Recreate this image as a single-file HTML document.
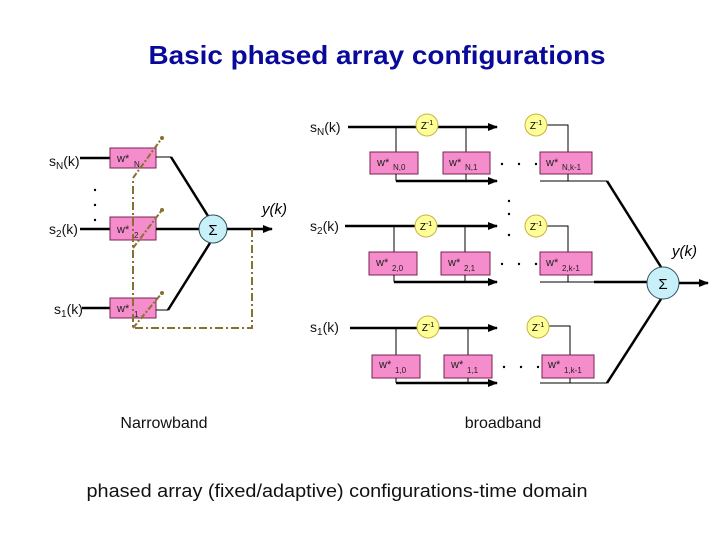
<!DOCTYPE html>
<html><head><meta charset="utf-8"><style>
html,body{margin:0;padding:0;background:#fff;}
svg{display:block;font-family:"Liberation Sans",sans-serif;}
.b{fill:#f58ccc;stroke:#7a2050;stroke-width:1;}
.z{fill:#ffff99;stroke:#c8b440;stroke-width:1;}
.s{fill:#c8f0f8;stroke:#305060;stroke-width:1;}
.t{stroke:#000;stroke-width:2.5;fill:none;}
.n{stroke:#000;stroke-width:1;fill:none;}
.d{stroke:#8a7030;stroke-width:2;fill:none;stroke-dasharray:8,3,2,3;}
.w{font-size:11px;fill:#222;}
.ws{font-size:8px;fill:#222;}
.l{font-size:14px;fill:#111;}
</style></head><body>
<svg width="720" height="540" viewBox="0 0 720 540">
<defs><marker id="a" markerWidth="10" markerHeight="8" refX="9" refY="4" orient="auto" markerUnits="userSpaceOnUse"><path d="M0,0L10,4L0,8z" fill="#000"/></marker></defs>
<text x="377" y="64" text-anchor="middle" font-size="26" font-weight="bold" fill="#0a0a9a" textLength="457" lengthAdjust="spacingAndGlyphs">Basic phased array configurations</text>

<!-- Narrowband -->
<g>
<line class="t" x1="80" y1="158" x2="110" y2="158"/>
<line class="t" x1="80" y1="229" x2="110" y2="229"/>
<line class="t" x1="82" y1="308" x2="110" y2="308"/>
<rect class="b" x="110" y="148" width="46" height="20"/>
<rect class="b" x="110" y="217" width="46" height="23"/>
<rect class="b" x="110" y="298" width="46" height="20"/>
<text class="w" x="117" y="162">w*</text><text class="ws" x="134" y="167">N</text>
<text class="w" x="117" y="233">w*</text><text class="ws" x="134" y="238">2</text>
<text class="w" x="117" y="312">w*</text><text class="ws" x="134" y="317">1</text>
<text class="l" x="49" y="166">s<tspan font-size="10" dy="3">N</tspan><tspan dy="-3">(k)</tspan></text>
<text class="l" x="49" y="234">s<tspan font-size="10" dy="3">2</tspan><tspan dy="-3">(k)</tspan></text>
<text class="l" x="54" y="314">s<tspan font-size="10" dy="3">1</tspan><tspan dy="-3">(k)</tspan></text>
<circle cx="95" cy="190" r="1.2"/><circle cx="95" cy="205" r="1.2"/><circle cx="95" cy="220" r="1.2"/>
<polyline class="n" points="156,157 171,157"/>
<line class="t" x1="171" y1="157" x2="208" y2="216"/>
<line class="t" x1="156" y1="229" x2="199" y2="229"/>
<polyline class="n" points="156,310 168,310"/>
<line class="t" x1="168" y1="310" x2="210" y2="243"/>
<circle class="s" cx="213" cy="229" r="14"/>
<text x="213" y="235" text-anchor="middle" font-size="15">Σ</text>
<line class="t" x1="227" y1="229" x2="272" y2="229" marker-end="url(#a)"/>
<text x="262" y="214" font-size="15" font-style="italic">y(k)</text>
<polyline class="d" points="252,229 252,328 133,328 133,178"/>
<line class="d" x1="133" y1="178" x2="162" y2="138" style="stroke-dasharray:6,2,2,2"/>
<line class="d" x1="133" y1="248" x2="162" y2="210" style="stroke-dasharray:6,2,2,2"/>
<line class="d" x1="133" y1="328" x2="162" y2="293" style="stroke-dasharray:6,2,2,2"/>
<circle cx="162" cy="138" r="2" fill="#8a7030"/><circle cx="162" cy="210" r="2" fill="#8a7030"/><circle cx="162" cy="293" r="2" fill="#8a7030"/>
</g>

<!-- Broadband rows -->
<g>
<text class="l" x="310" y="132">s<tspan font-size="10" dy="3">N</tspan><tspan dy="-3">(k)</tspan></text>
<line class="t" x1="348" y1="127" x2="497" y2="127" marker-end="url(#a)"/>
<polyline class="n" points="396,127 396,152"/><polyline class="n" points="466,127 466,152"/>
<polyline class="n" points="545,125 568,125 568,152"/>
<circle class="z" cx="427" cy="125" r="11"/><circle class="z" cx="536" cy="125" r="11"/>
<text x="427" y="129" text-anchor="middle" font-size="10">Z<tspan font-size="7" dy="-4">-1</tspan></text>
<text x="536" y="129" text-anchor="middle" font-size="10">Z<tspan font-size="7" dy="-4">-1</tspan></text>
<rect class="b" x="370" y="152" width="48" height="22"/><rect class="b" x="443" y="152" width="47" height="22"/><rect class="b" x="540" y="152" width="52" height="22"/>
<text class="w" x="377" y="166">w*</text><text class="ws" x="393" y="170">N,0</text>
<text class="w" x="449" y="166">w*</text><text class="ws" x="465" y="170">N,1</text>
<text class="w" x="546" y="166">w*</text><text class="ws" x="562" y="170">N,k-1</text>
<polyline class="n" points="396,174 396,181"/><polyline class="n" points="466,174 466,181"/><polyline class="n" points="568,174 568,181"/>
<line class="t" x1="396" y1="181" x2="497" y2="181" marker-end="url(#a)"/>
<line class="n" x1="540" y1="181" x2="607" y2="181"/>
<line class="t" x1="607" y1="181" x2="661" y2="267"/>
<circle cx="502" cy="164" r="1.2"/><circle cx="519" cy="164" r="1.2"/><circle cx="536" cy="164" r="1.2"/>
<circle cx="509" cy="201" r="1.2"/><circle cx="509" cy="214" r="1.2"/><circle cx="509" cy="235" r="1.2"/>

<text class="l" x="310" y="231">s<tspan font-size="10" dy="3">2</tspan><tspan dy="-3">(k)</tspan></text>
<line class="t" x1="345" y1="226" x2="497" y2="226" marker-end="url(#a)"/>
<polyline class="n" points="394,226 394,252"/><polyline class="n" points="465,226 465,252"/>
<polyline class="n" points="545,226 568,226 568,252"/>
<circle class="z" cx="426" cy="226" r="11"/><circle class="z" cx="536" cy="226" r="11"/>
<text x="426" y="230" text-anchor="middle" font-size="10">Z<tspan font-size="7" dy="-4">-1</tspan></text>
<text x="536" y="230" text-anchor="middle" font-size="10">Z<tspan font-size="7" dy="-4">-1</tspan></text>
<rect class="b" x="369" y="252" width="48" height="23"/><rect class="b" x="441" y="252" width="49" height="23"/><rect class="b" x="540" y="252" width="52" height="23"/>
<text class="w" x="376" y="266">w*</text><text class="ws" x="392" y="271">2,0</text>
<text class="w" x="448" y="266">w*</text><text class="ws" x="464" y="271">2,1</text>
<text class="w" x="546" y="266">w*</text><text class="ws" x="562" y="271">2,k-1</text>
<polyline class="n" points="394,275 394,282"/><polyline class="n" points="465,275 465,282"/><polyline class="n" points="568,275 568,282"/>
<line class="t" x1="394" y1="282" x2="497" y2="282" marker-end="url(#a)"/>
<line class="n" x1="540" y1="282" x2="594" y2="282"/>
<line class="t" x1="594" y1="282" x2="647" y2="282"/>
<circle cx="502" cy="264" r="1.2"/><circle cx="519" cy="264" r="1.2"/><circle cx="536" cy="264" r="1.2"/>

<text class="l" x="310" y="332">s<tspan font-size="10" dy="3">1</tspan><tspan dy="-3">(k)</tspan></text>
<line class="t" x1="350" y1="328" x2="497" y2="328" marker-end="url(#a)"/>
<polyline class="n" points="396,328 396,355"/><polyline class="n" points="468,328 468,355"/>
<polyline class="n" points="548,326 570,326 570,355"/>
<circle class="z" cx="428" cy="327" r="11"/><circle class="z" cx="538" cy="327" r="11"/>
<text x="428" y="331" text-anchor="middle" font-size="10">Z<tspan font-size="7" dy="-4">-1</tspan></text>
<text x="538" y="331" text-anchor="middle" font-size="10">Z<tspan font-size="7" dy="-4">-1</tspan></text>
<rect class="b" x="372" y="355" width="48" height="23"/><rect class="b" x="444" y="355" width="48" height="23"/><rect class="b" x="542" y="355" width="52" height="23"/>
<text class="w" x="379" y="368">w*</text><text class="ws" x="395" y="373">1,0</text>
<text class="w" x="451" y="368">w*</text><text class="ws" x="467" y="373">1,1</text>
<text class="w" x="548" y="368">w*</text><text class="ws" x="564" y="373">1,k-1</text>
<polyline class="n" points="396,378 396,383"/><polyline class="n" points="468,378 468,383"/><polyline class="n" points="570,378 570,383"/>
<line class="t" x1="396" y1="383" x2="497" y2="383" marker-end="url(#a)"/>
<line class="n" x1="540" y1="383" x2="607" y2="383"/>
<line class="t" x1="607" y1="383" x2="661" y2="299"/>
<circle cx="504" cy="367" r="1.2"/><circle cx="521" cy="367" r="1.2"/><circle cx="538" cy="367" r="1.2"/>

<circle class="s" cx="663" cy="283" r="16"/>
<text x="663" y="289" text-anchor="middle" font-size="15">Σ</text>
<line class="t" x1="679" y1="283" x2="708" y2="283" marker-end="url(#a)"/>
<text x="672" y="256" font-size="15" font-style="italic">y(k)</text>
</g>

<text x="164" y="428" text-anchor="middle" font-size="16" fill="#111">Narrowband</text>
<text x="503" y="428" text-anchor="middle" font-size="16" fill="#111">broadband</text>
<text x="337" y="497" text-anchor="middle" font-size="18" fill="#111" textLength="501" lengthAdjust="spacingAndGlyphs">phased array (fixed/adaptive) configurations-time domain</text>
</svg>
</body></html>
